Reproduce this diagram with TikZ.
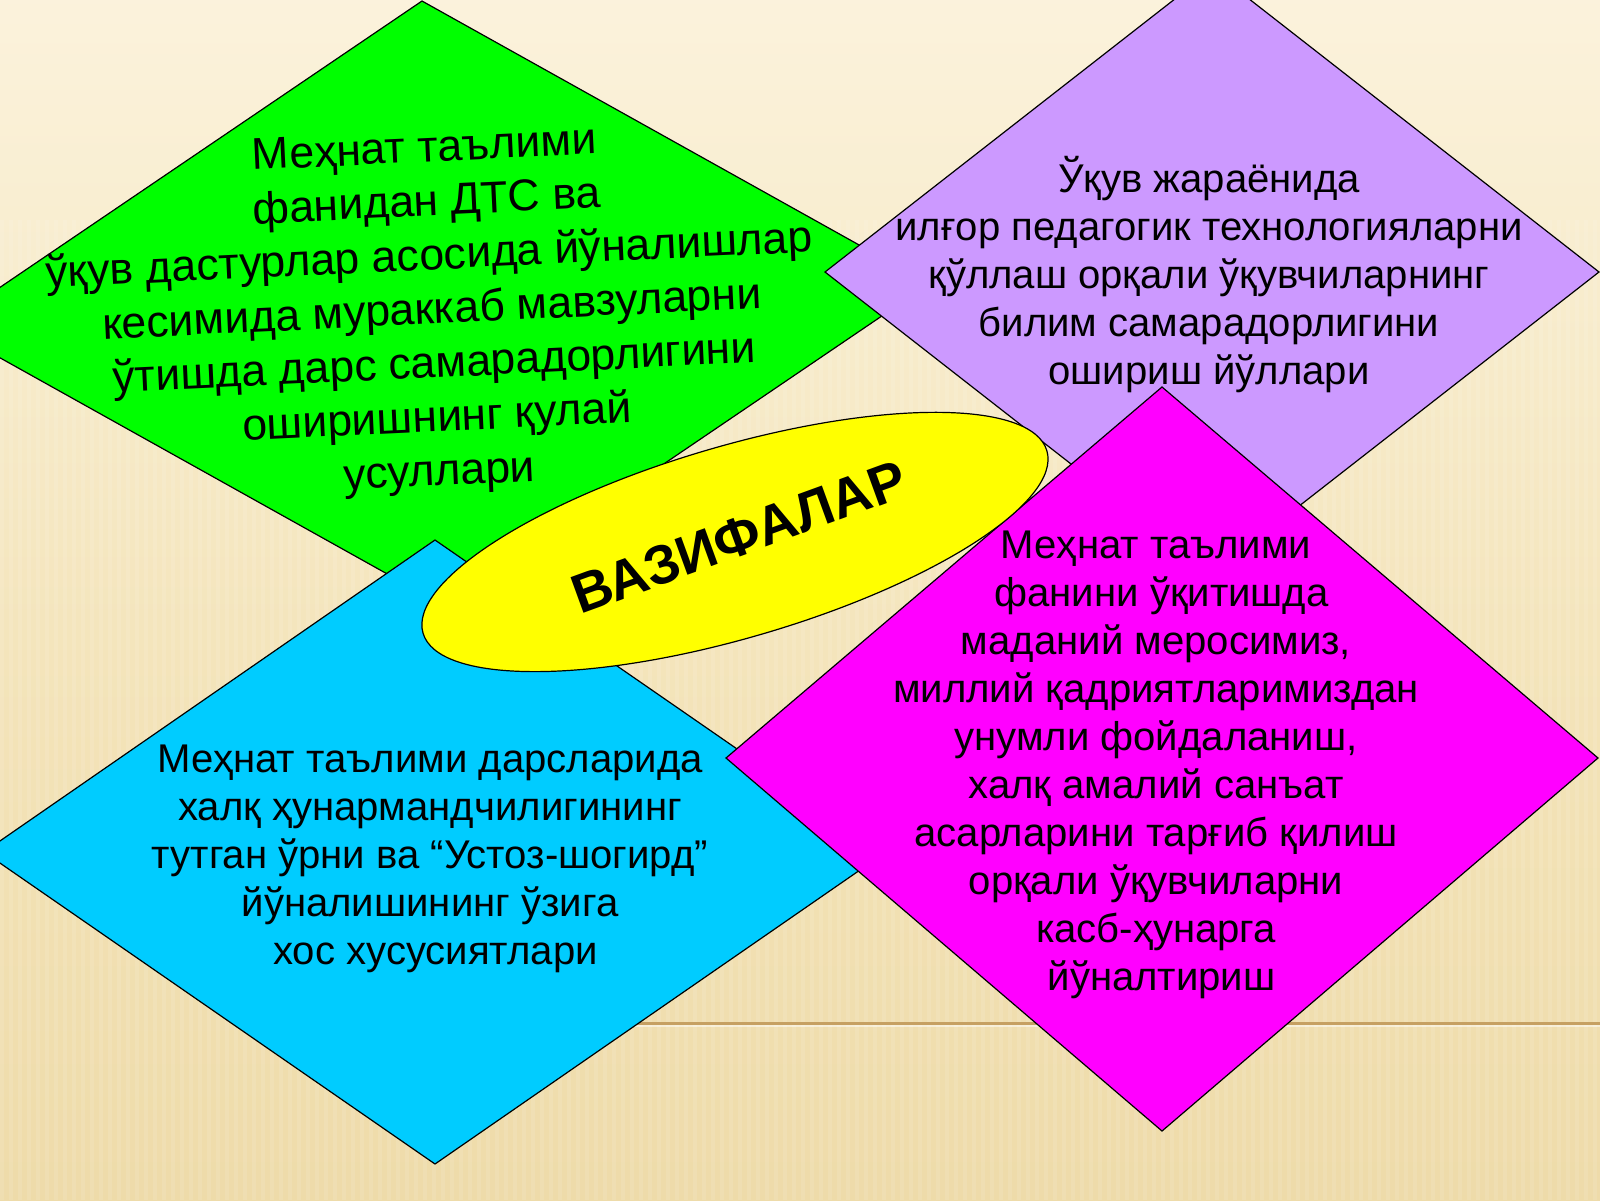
\documentclass[tikz,border=0pt]{standalone}
\usepackage{fontspec}
\setmainfont{Liberation Sans}
\definecolor{bgA}{HTML}{FDF6E4}
\definecolor{bgB}{HTML}{F3E3B8}
\definecolor{bgC}{HTML}{E8D197}
\definecolor{lineC}{HTML}{C6A062}
\definecolor{cGreen}{HTML}{00FF00}
\definecolor{cPurple}{HTML}{CC99FF}
\definecolor{cCyan}{HTML}{00CCFF}
\definecolor{cMagenta}{HTML}{FF00FF}
\definecolor{cYellow}{HTML}{FFFF00}
\pgfdeclareverticalshading{bgshade}{100bp}{color(0bp)=(bgC); color(45bp)=(bgB); color(82bp)=(bgA); color(100bp)=(bgA)}
\tikzset{
  shapebox/.style={draw=black, line width=1.2pt, line join=miter},
  smalltext/.style={align=center, inner sep=0pt, text=black, font=\fontsize{40.1}{48}\selectfont},
  bigtext/.style={align=center, inner sep=0pt, text=black, font=\fontsize{44.5}{54}\selectfont},
}
\begin{document}
\begin{tikzpicture}[x=1pt,y=-1pt]
\useasboundingbox (0,0) rectangle (1600,1200);
\begin{scope}
\clip (0,0) rectangle (1600,1200);
% background
\shade[shading=bgshade] (0,0) rectangle (1600,1200);
\foreach \x in {0,9,...,1600} {
  \fill[white, opacity=0.10] (\x,220) rectangle ++(3.5,980);
}
\draw[lineC, line width=3pt] (300,1023) -- (1600,1023);
\draw[white, opacity=0.5, line width=1.5pt] (300,1026) -- (1600,1026);

% green diamond
\coordinate (gT) at (422,1);
\coordinate (gR) at (929,284);
\coordinate (gB) at (450,609);
\coordinate (gL) at (-57,326);
\filldraw[shapebox, fill=cGreen] (gT) -- (gR) -- (gB) -- (gL) -- cycle;
\node[bigtext, rotate=2.7] (tgreen) at (432,313) {Меҳнат таълими\\фанидан ДТС ва\\ўқув дастурлар асосида йўналишлар\\кесимида мураккаб мавзуларни\\ўтишда дарс самарадорлигини\\оширишнинг қулай\\усуллари};

% purple diamond
\coordinate (pT) at (1212,-30);
\coordinate (pR) at (1599,272);
\coordinate (pB) at (1212,574);
\coordinate (pL) at (825,272);
\filldraw[shapebox, fill=cPurple] (pT) -- (pR) -- (pB) -- (pL) -- cycle;
\node[smalltext] (tpurple) at (1209,275) {Ўқув жараёнида\\илғор педагогик технологияларни\\қўллаш орқали ўқувчиларнинг\\билим самарадорлигини\\ошириш йўллари};

% cyan diamond
\coordinate (cT) at (435,540);
\coordinate (cR) at (886,852);
\coordinate (cB) at (435,1164);
\coordinate (cL) at (-16,852);
\filldraw[shapebox, fill=cCyan] (cT) -- (cR) -- (cB) -- (cL) -- cycle;
\node[smalltext] (tcyan) at (430,859) {Меҳнат таълими дарсларида\\халқ ҳунармандчилигининг\\тутган ўрни ва “Устоз-шогирд”\\йўналишининг ўзига\\\ хос хусусиятлари};

% magenta diamond
\coordinate (mT) at (1162,387);
\coordinate (mR) at (1598,758);
\coordinate (mB) at (1162,1131);
\coordinate (mL) at (726,758);
\filldraw[shapebox, fill=cMagenta] (mT) -- (mR) -- (mB) -- (mL) -- cycle;
\node[smalltext] (tmagenta) at (1156,765) {Меҳнат таълими\\\ фанини ўқитишда\\маданий меросимиз,\\миллий қадриятларимиздан\\унумли фойдаланиш,\\халқ амалий санъат\\асарларини тарғиб қилиш\\орқали ўқувчиларни\\касб-ҳунарга\\\ йўналтириш};

% yellow ellipse
\coordinate (eC) at (735,542);
\filldraw[shapebox, fill=cYellow, rotate around={16.3:(eC)}] (eC) ellipse [x radius=325pt, y radius=96pt];
\node[inner sep=0pt, rotate=20, font=\fontsize{55}{62}\selectfont\bfseries] (vaz) at (739,537) {ВАЗИФАЛАР};
\end{scope}
\end{tikzpicture}
\end{document}
